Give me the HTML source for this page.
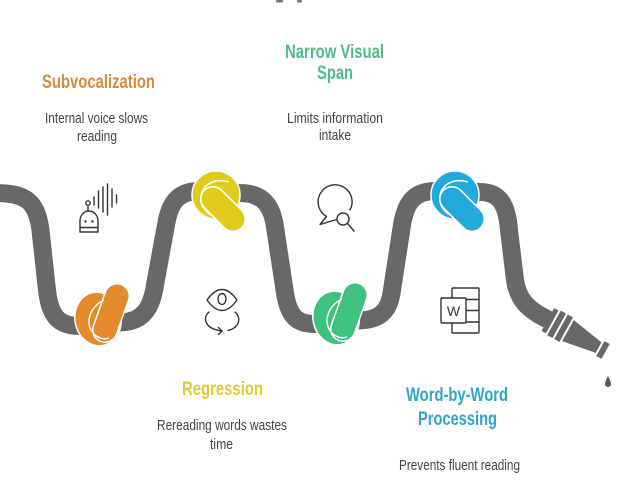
<!DOCTYPE html>
<html>
<head>
<meta charset="utf-8">
<style>
  html, body { margin:0; padding:0; background:#ffffff; }
  body { width:640px; height:500px; overflow:hidden; }
  svg { display:block; }
  .t { font-family:"Liberation Sans", sans-serif; font-weight:bold; font-size:19px; }
  .d { font-family:"Liberation Sans", sans-serif; font-size:14.5px; fill:#444444; }
  .ic { fill:none; stroke:#333333; stroke-width:1.4; stroke-linecap:round; stroke-linejoin:round; }
</style>
</head>
<body>
<svg width="640" height="500" viewBox="0 0 640 500" xmlns="http://www.w3.org/2000/svg">
  <rect x="0" y="0" width="640" height="500" fill="#ffffff"/>

  <!-- title fragments at top -->
  <rect x="276" y="0" width="7" height="2.5" fill="#777" rx="1"/>
  <rect x="297" y="0" width="5" height="2.5" fill="#777" rx="1"/>

  <!-- hose -->
  <path d="M -5,193 C 25,193 38,200 41,235 L 47,290 C 50,318 60,326 80,326 L 125,322 C 145,320 152,305 155,285 L 166,225 C 170,200 180,191 200,191 L 240,193 C 262,193 272,205 275,227 L 285,293 C 289,318 298,324 315,324 L 365,320 C 385,318 390,305 392,290 L 402,225 C 406,200 416,191 436,191 L 480,192 C 500,192 507,205 509,230 L 515,280 C 518,300 528,310 549,320"
        fill="none" stroke="#686868" stroke-width="18" stroke-linecap="butt" stroke-linejoin="round"/>

  <!-- nozzle -->
  <g transform="translate(547,319) rotate(29)" fill="#686868">
    <rect x="1" y="-13" width="5" height="26"/>
    <rect x="8" y="-14" width="6" height="28"/>
    <rect x="16" y="-14" width="6" height="28"/>
    <polygon points="24,-12 59,-6 59,6 24,12"/>
    <rect x="61" y="-8.5" width="6" height="17"/>
  </g>
  <!-- drop -->
  <path d="M608,376 C 606.5,379.5 605,381.5 605,384 A 3,3 0 0 0 611,384 C 611,381.5 609.5,379.5 608,376 Z" fill="#555"/>

  <!-- orange knot -->
  <g>
    <ellipse cx="98" cy="319" rx="23" ry="27" transform="rotate(-12 98 319)" fill="#e38a2c" stroke="#fff" stroke-width="1.5"/>
    <path d="M105,330 L117,296" stroke="#fff" stroke-width="26" stroke-linecap="round" fill="none"/>
    <path d="M105,330 L117,296" stroke="#e38a2c" stroke-width="23" stroke-linecap="round" fill="none"/>
    <path d="M104,300 C 90,307 84,323 94,334 C 98,338 104,340 109,338" stroke="#fff" stroke-width="1.5" fill="none"/>
  </g>

  <!-- green knot -->
  <g transform="translate(238,-1)">
    <ellipse cx="98" cy="319" rx="23" ry="27" transform="rotate(-12 98 319)" fill="#3fc17f" stroke="#fff" stroke-width="1.5"/>
    <path d="M105,330 L117,296" stroke="#fff" stroke-width="26" stroke-linecap="round" fill="none"/>
    <path d="M105,330 L117,296" stroke="#3fc17f" stroke-width="23" stroke-linecap="round" fill="none"/>
    <path d="M104,300 C 90,307 84,323 94,334 C 98,338 104,340 109,338" stroke="#fff" stroke-width="1.5" fill="none"/>
  </g>

  <!-- yellow knot -->
  <g>
    <ellipse cx="216" cy="195" rx="24" ry="24" fill="#e1cb1a" stroke="#fff" stroke-width="1.5"/>
    <path d="M213,199 L233,219" stroke="#fff" stroke-width="26" stroke-linecap="round" fill="none"/>
    <path d="M213,199 L233,219" stroke="#e1cb1a" stroke-width="23" stroke-linecap="round" fill="none"/>
    <path d="M229,182 C 214,177 199,186 201,201 C 202,207 206,212 211,215" stroke="#fff" stroke-width="1.5" fill="none"/>
  </g>

  <!-- blue knot -->
  <g transform="translate(239,0)">
    <ellipse cx="216" cy="195" rx="24" ry="24" fill="#22a8da" stroke="#fff" stroke-width="1.5"/>
    <path d="M213,199 L233,219" stroke="#fff" stroke-width="26" stroke-linecap="round" fill="none"/>
    <path d="M213,199 L233,219" stroke="#22a8da" stroke-width="23" stroke-linecap="round" fill="none"/>
    <path d="M229,182 C 214,177 199,186 201,201 C 202,207 206,212 211,215" stroke="#fff" stroke-width="1.5" fill="none"/>
  </g>

  <!-- robot icon -->
  <g class="ic">
    <circle cx="88" cy="203" r="2.2"/>
    <line x1="88" y1="205.2" x2="88" y2="210.5"/>
    <path d="M80,232 V221 A9,10 0 0 1 98,221 V232 Z"/>
    <line x1="80" y1="227.5" x2="98" y2="227.5"/>
    <line x1="94" y1="197" x2="94" y2="205"/>
    <line x1="98.5" y1="191" x2="98.5" y2="208"/>
    <line x1="103" y1="187" x2="103" y2="212"/>
    <line x1="107.5" y1="184" x2="107.5" y2="215"/>
    <line x1="112" y1="189" x2="112" y2="207"/>
    <line x1="116.5" y1="195" x2="116.5" y2="203"/>
  </g>
  <circle cx="85.5" cy="221.5" r="1.2" fill="#333"/>
  <circle cx="92.5" cy="221.5" r="1.2" fill="#333"/>

  <!-- eye with circular arrows -->
  <g class="ic">
    <path d="M207,300 Q222,279 237,300 Q222,321 207,300 Z"/>
    <ellipse cx="222" cy="299" rx="4" ry="5.5"/>
    <path d="M209,312 C 202,318 205,329 222,331"/>
    <polyline points="218.5,327.5 222,331 218.5,334.5"/>
    <path d="M235,312 C 242,318 239,328 228,330.5"/>
  </g>

  <!-- bubble with magnifier -->
  <g class="ic">
    <path d="M350,210 A17,17 0 1 0 326.5,216.5 L320,224.5 L336.5,219.5"/>
    <circle cx="343" cy="219" r="6"/>
    <line x1="347.5" y1="223.5" x2="354" y2="231"/>
  </g>

  <!-- word icon -->
  <g class="ic">
    <rect x="452" y="288" width="27" height="45" rx="1"/>
    <line x1="466" y1="299.5" x2="479" y2="299.5"/>
    <line x1="466" y1="310.5" x2="479" y2="310.5"/>
    <line x1="466" y1="322" x2="479" y2="322"/>
    <rect x="441" y="298" width="25" height="25" fill="#ffffff" rx="1"/>
  </g>
  <text x="453.5" y="316" text-anchor="middle" font-family="Liberation Sans, sans-serif" font-size="14" fill="#333">W</text>

  <!-- titles -->
  <text class="t" x="98.5" y="88" text-anchor="middle" fill="#d68a3c" textLength="113" lengthAdjust="spacingAndGlyphs">Subvocalization</text>
  <text class="t" x="334.5" y="58" text-anchor="middle" fill="#4fbc88" textLength="99" lengthAdjust="spacingAndGlyphs">Narrow Visual</text>
  <text class="t" x="335" y="79" text-anchor="middle" fill="#4fbc88" textLength="36" lengthAdjust="spacingAndGlyphs">Span</text>
  <text class="t" x="222.5" y="395" text-anchor="middle" fill="#dccb33" textLength="81" lengthAdjust="spacingAndGlyphs">Regression</text>
  <text class="t" x="457" y="401" text-anchor="middle" fill="#2fa4cc" textLength="102" lengthAdjust="spacingAndGlyphs">Word-by-Word</text>
  <text class="t" x="457.5" y="425" text-anchor="middle" fill="#2fa4cc" textLength="79" lengthAdjust="spacingAndGlyphs">Processing</text>

  <!-- descriptions -->
  <text class="d" x="96.5" y="123" text-anchor="middle" textLength="103" lengthAdjust="spacingAndGlyphs">Internal voice slows</text>
  <text class="d" x="97" y="141" text-anchor="middle" textLength="40" lengthAdjust="spacingAndGlyphs">reading</text>
  <text class="d" x="335" y="123" text-anchor="middle" textLength="96" lengthAdjust="spacingAndGlyphs">Limits information</text>
  <text class="d" x="335" y="140" text-anchor="middle" textLength="32" lengthAdjust="spacingAndGlyphs">intake</text>
  <text class="d" x="222" y="430" text-anchor="middle" textLength="130" lengthAdjust="spacingAndGlyphs">Rereading words wastes</text>
  <text class="d" x="221.5" y="449" text-anchor="middle" textLength="23" lengthAdjust="spacingAndGlyphs">time</text>
  <text class="d" x="459.5" y="470" text-anchor="middle" textLength="121" lengthAdjust="spacingAndGlyphs">Prevents fluent reading</text>
</svg>
</body>
</html>
